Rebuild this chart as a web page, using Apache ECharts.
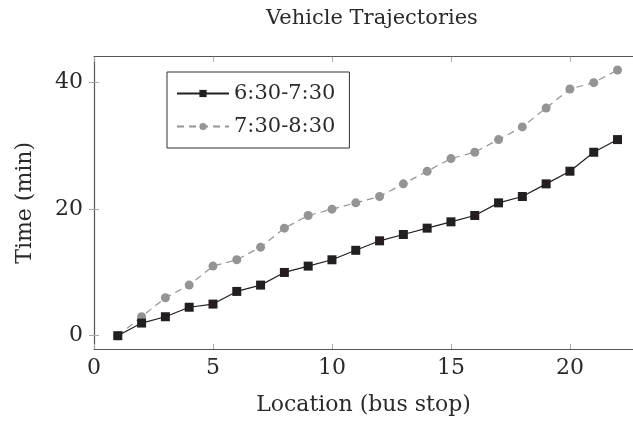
<!DOCTYPE html>
<html>
<head>
<meta charset="utf-8">
<script src="https://cdn.jsdelivr.net/npm/echarts@6/dist/echarts.min.js"></script>
<style>
html,body{margin:0;padding:0;background:#fff;}
#chart{width:633px;height:422px;}
</style>
</head>
<body>
<div id="chart"></div>
<script>
const stops = [1,2,3,4,5,6,7,8,9,10,11,12,13,14,15,16,17,18,19,20,21,22];
const early = [0,2,3,4.5,5,7,8,10,11,12,13.5,15,16,17,18,19,21,22,24,26,29,31];
const late = [0,3,6,8,11,12,14,17,19,20,21,22,24,26,28,29,31,33,36,39,40,42];
const xTicks = [0,5,10,15,20];
const yTicks = [0,20,40];

const FONT = '"DejaVu Serif", serif';
const TXT = '#2a2a2a';
const chart = echarts.init(document.getElementById('chart'), null, {renderer:'canvas'});
const pair = (xs, ys) => xs.map((x,i)=>[x, ys[i]]);
const frame = '#555';
const tickC = '#aaa';
const xmin = 0, xmax = 22.65, ymin = -2.1, ymax = 44.1;

chart.setOption({
  animation:false,
  backgroundColor:'#fff',
  title:{
    text:'Vehicle Trajectories', left:367, top:3, textAlign:'center',
    textStyle:{fontFamily:FONT, fontSize:21, fontWeight:'normal', color:TXT}
  },
  legend:{
    left:167, top:72, orient:'vertical',
    itemWidth:52, itemHeight:9, itemGap:12,
    padding:[11,14,11,9],
    borderColor:'#333', borderWidth:1, backgroundColor:'#fff',
    textStyle:{fontFamily:FONT, fontSize:21, color:TXT},
    data:['6:30-7:30','7:30-8:30']
  },
  grid:{left:94, right:0, top:56.7, bottom:73, containLabel:false},
  xAxis:[{
    type:'value', min:xmin, max:xmax, interval:5, position:'bottom',
    name:'Location (bus stop)', nameLocation:'middle', nameGap:45,
    nameTextStyle:{fontFamily:FONT, fontSize:22, color:TXT},
    axisLine:{show:true, onZero:false, lineStyle:{color:frame, width:1.2}},
    axisTick:{show:true, inside:true, length:5, lineStyle:{color:tickC}, customValues:xTicks},
    axisLabel:{show:true, fontFamily:FONT, fontSize:22, color:TXT, margin:8, customValues:xTicks},
    splitLine:{show:false}
  },{
    type:'value', min:xmin, max:xmax, interval:5, position:'top',
    axisLine:{show:true, onZero:false, lineStyle:{color:frame, width:1.2}},
    axisTick:{show:true, inside:true, length:5, lineStyle:{color:tickC}, customValues:xTicks},
    axisLabel:{show:false},
    splitLine:{show:false}
  }],
  yAxis:[{
    type:'value', min:ymin, max:ymax, position:'left',
    name:'Time (min)', nameLocation:'middle', nameGap:58, nameRotate:90,
    nameTextStyle:{fontFamily:FONT, fontSize:22, color:TXT},
    axisLine:{show:true, onZero:false, lineStyle:{color:frame, width:1.2}},
    axisTick:{show:true, inside:true, length:5, lineStyle:{color:tickC}, customValues:yTicks},
    axisLabel:{show:true, fontFamily:FONT, fontSize:22, color:TXT, margin:11, customValues:yTicks},
    splitLine:{show:false}
  },{
    type:'value', min:ymin, max:ymax, position:'right',
    axisLine:{show:false},
    axisTick:{show:true, inside:true, length:5, lineStyle:{color:tickC}, customValues:yTicks},
    axisLabel:{show:false},
    splitLine:{show:false}
  }],
  series:[{
    name:'6:30-7:30', type:'line', xAxisIndex:0, yAxisIndex:0,
    data:pair(stops, early),
    symbol:'rect', symbolSize:9,
    itemStyle:{color:'#231f20'},
    lineStyle:{color:'#231f20', width:1.2},
    z:3
  },{
    name:'7:30-8:30', type:'line', xAxisIndex:0, yAxisIndex:0,
    data:pair(stops, late),
    symbol:'circle', symbolSize:9,
    itemStyle:{color:'#949494'},
    lineStyle:{color:'#949494', width:1.2, type:[7,5]},
    z:2
  }]
});
</script>
</body>
</html>
